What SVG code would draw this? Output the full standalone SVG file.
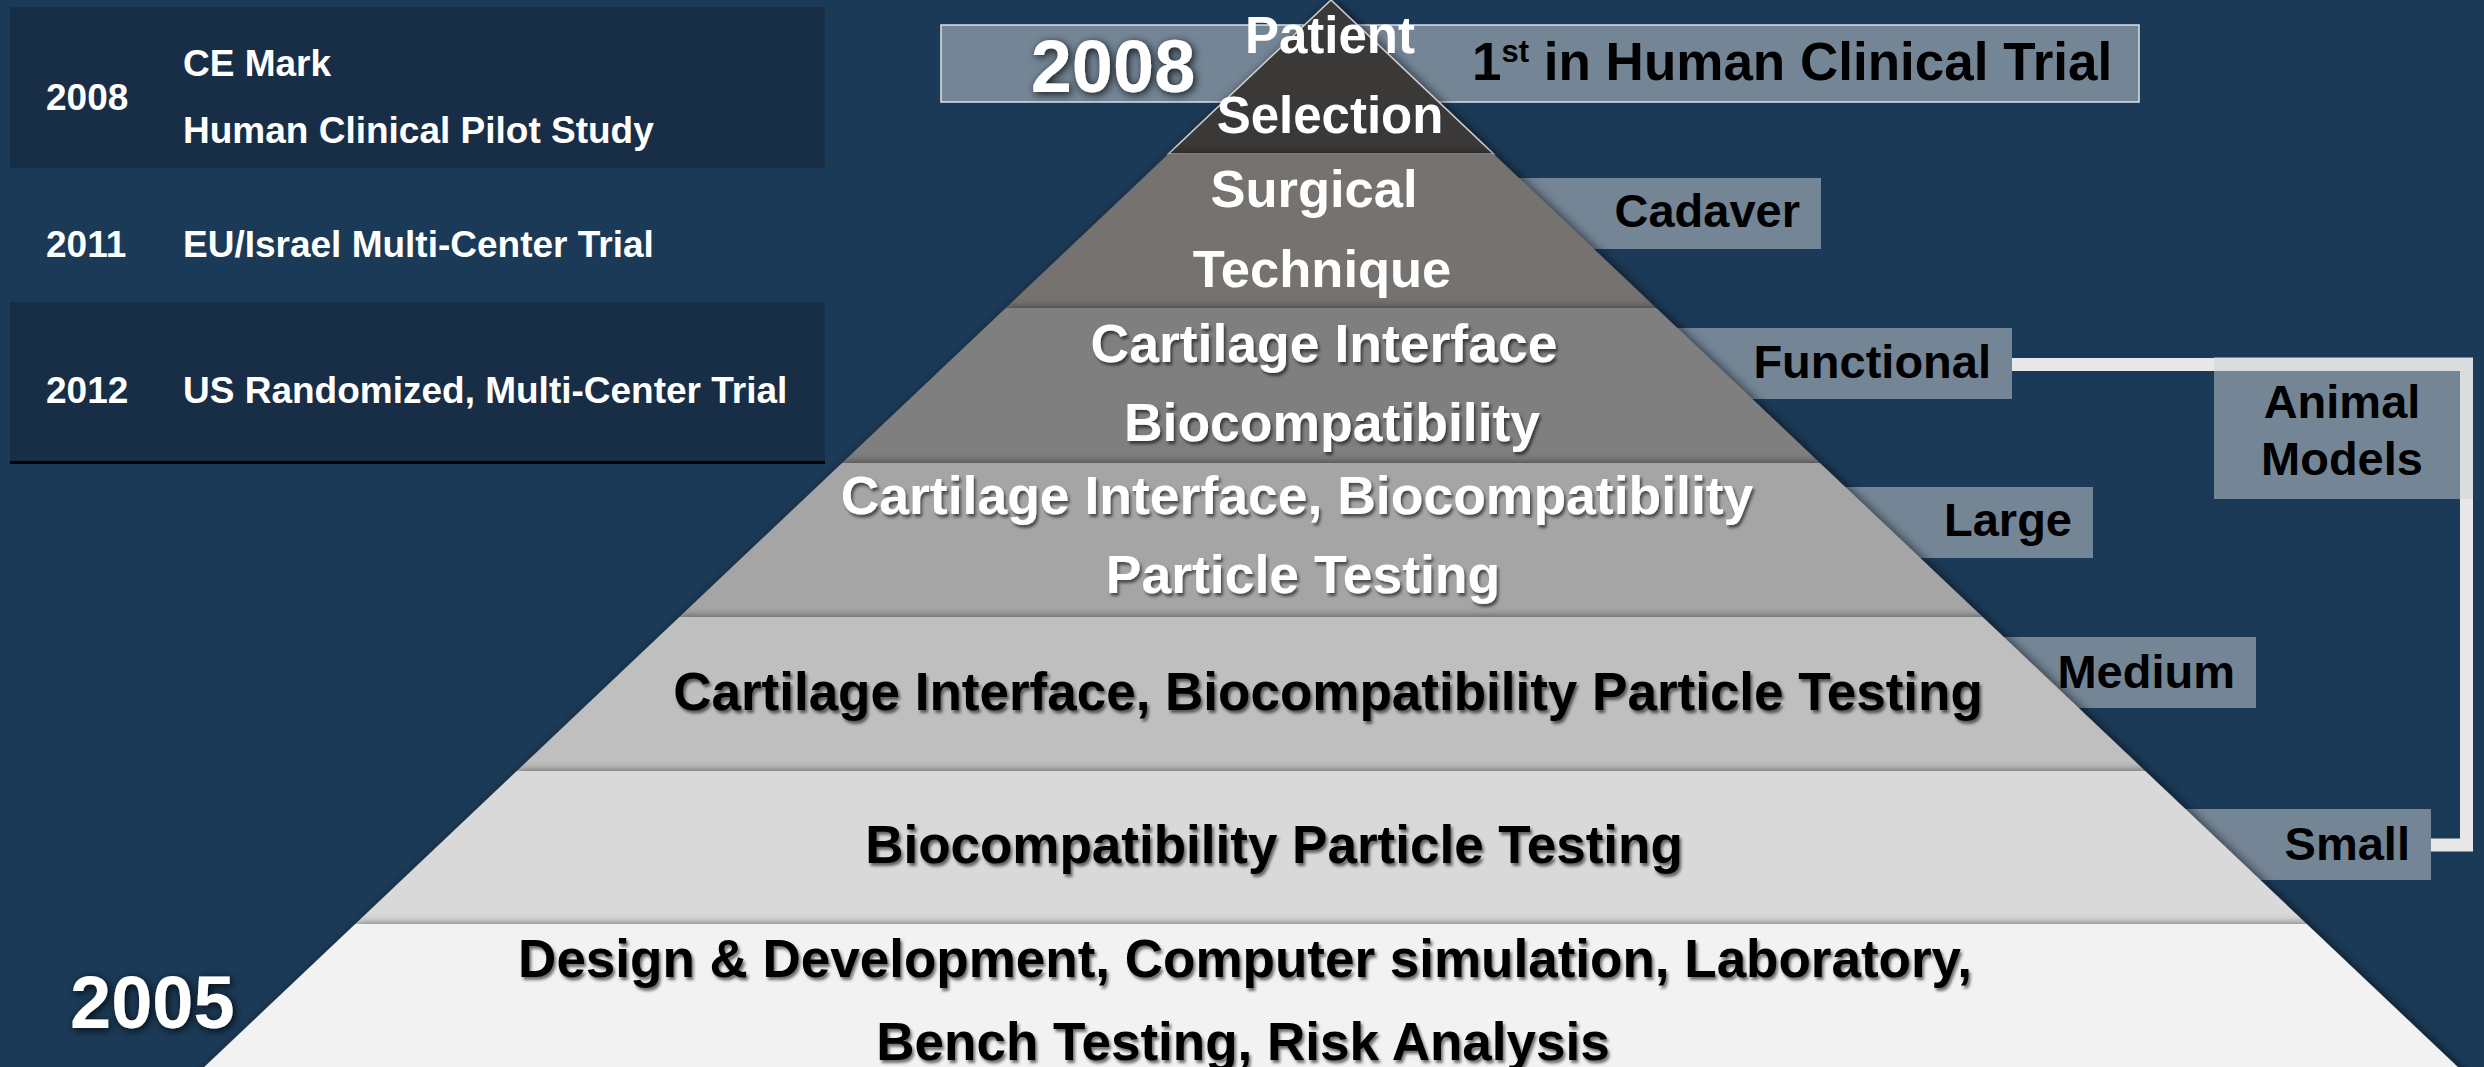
<svg xmlns="http://www.w3.org/2000/svg" width="2484" height="1067" viewBox="0 0 2484 1067">
  <defs>
    <style>
      text { font-family: "Liberation Sans", Arial, sans-serif; font-weight: bold; }
      .cell { fill: #ffffff; font-size: 37px; }
      .band { fill: #182e46; }
      .box { fill: #cdd0d5; fill-opacity: 0.5; }
      .lbl { fill: #000000; font-size: 47px; text-anchor: end; }
      .tierW { fill: #ffffff; font-size: 53.5px; text-anchor: middle; }
      .tierB { fill: #000000; font-size: 53px; text-anchor: middle; }
      .year { fill: #ffffff; font-size: 74px; }
      .tier { filter: url(#tierShadow); }
    </style>
    <filter id="tierShadow" x="-10%" y="-40%" width="120%" height="180%">
      <feDropShadow dx="3" dy="0" stdDeviation="5" flood-color="#000000" flood-opacity="0.55"/>
    </filter>
    <filter id="txtShadow" x="-5%" y="-30%" width="110%" height="170%">
      <feDropShadow dx="2" dy="3" stdDeviation="1.5" flood-color="#000000" flood-opacity="0.55"/>
    </filter>
    <filter id="yearGlow" x="-20%" y="-30%" width="140%" height="170%">
      <feDropShadow dx="2" dy="2" stdDeviation="4" flood-color="#000000" flood-opacity="0.85"/>
    </filter>
  </defs>

  <!-- page background -->
  <rect x="0" y="0" width="2484" height="1067" fill="#1b3a57"/>

  <!-- milestone table -->
  <g id="milestones">
    <g id="row-2008">
      <rect class="band" x="10" y="7" width="815" height="161"/>
      <text class="cell" x="46" y="110">2008</text>
      <text class="cell" x="183" y="76">CE Mark</text>
      <text class="cell" x="183" y="143">Human Clinical Pilot Study</text>
    </g>
    <g id="row-2011">
      <text class="cell" x="46" y="257">2011</text>
      <text class="cell" x="183" y="257">EU/Israel Multi-Center Trial</text>
    </g>
    <g id="row-2012">
      <rect class="band" x="10" y="302" width="815" height="160"/>
      <rect x="10" y="461" width="815" height="3" fill="#000000"/>
      <text class="cell" x="46" y="403">2012</text>
      <text class="cell" x="183" y="403">US Randomized, Multi-Center Trial</text>
    </g>
  </g>

  <!-- bracket joining the animal model levels -->
  <g id="connectors">
    <path id="animal-bracket" d="M2012 364.5 H2466.5 V845 H2431" fill="none" stroke="#e8e8e8" stroke-width="13" stroke-linejoin="miter"/>
  </g>

  <!-- side labels -->
  <g id="first-in-human">
    <rect class="box" x="941" y="25" width="1198" height="77" stroke="#dde3e9" stroke-width="1.5"/>
    <text class="year" x="1113" y="92" text-anchor="middle" filter="url(#yearGlow)">2008</text>
    <text x="1472" y="80" font-size="53" fill="#000000">1<tspan font-size="31" dy="-18">st</tspan><tspan dy="18"> in Human Clinical Trial</tspan></text>
  </g>
  <g id="cadaver">
    <rect class="box" x="1440" y="178" width="381" height="71"/>
    <text class="lbl" x="1800" y="227">Cadaver</text>
  </g>
  <g id="functional">
    <rect class="box" x="1600" y="328" width="412" height="71"/>
    <text class="lbl" x="1991" y="378">Functional</text>
  </g>
  <g id="large">
    <rect class="box" x="1770" y="487" width="323" height="71"/>
    <text class="lbl" x="2072" y="536">Large</text>
  </g>
  <g id="medium">
    <rect class="box" x="1930" y="637" width="326" height="71"/>
    <text class="lbl" x="2235" y="688">Medium</text>
  </g>
  <g id="small">
    <rect class="box" x="2110" y="809" width="321" height="71"/>
    <text class="lbl" x="2410" y="860">Small</text>
  </g>
  <g id="animal-models">
    <rect class="box" x="2214" y="357" width="259" height="142"/>
    <text class="lbl" x="2342" y="418" style="text-anchor:middle">Animal</text>
    <text class="lbl" x="2342" y="475" style="text-anchor:middle">Models</text>
  </g>

  <!-- pyramid, drawn top tier first so each lower tier shades the one above -->
  <g id="pyramid">
    <g id="tier-patient-selection">
      <polygon class="tier" points="1331,0 1493.6,154 1168.4,154" fill="#3b3937" stroke="#d0d0d0" stroke-width="1.5"/>
    </g>
    <g id="tier-surgical-technique">
      <polygon class="tier" points="1168.4,154 1493.6,154 1656.2,308 1005.8,308" fill="#767270"/>
    </g>
    <g id="tier-cartilage-biocompat">
      <polygon class="tier" points="1005.8,308 1656.2,308 1819.9,463 842.1,463" fill="#7f7f7f"/>
    </g>
    <g id="tier-cartilage-biocompat-particle">
      <polygon class="tier" points="842.1,463 1819.9,463 1982.6,617 679.4,617" fill="#a5a5a5"/>
    </g>
    <g id="tier-cartilage-particle-single">
      <polygon class="tier" points="679.4,617 1982.6,617 2145.2,771 516.8,771" fill="#bfbfbf"/>
    </g>
    <g id="tier-biocompat-particle">
      <polygon class="tier" points="516.8,771 2145.2,771 2306.7,924 355.3,924" fill="#d9d9d9"/>
    </g>
    <g id="tier-design">
      <polygon class="tier" points="355.3,924 2306.7,924 2471.5,1080 190.5,1080" fill="#f2f2f2"/>
    </g>
  </g>

  <!-- tier captions -->
  <g id="tier-captions">
    <text class="tierW" x="1330" y="53" font-size="51" style="font-size:51px">Patient</text>
    <text class="tierW" x="1330" y="133" style="font-size:51px">Selection</text>
    <text class="tierW" x="1314" y="207" style="font-size:52.5px">Surgical</text>
    <text class="tierW" x="1322" y="287" style="font-size:52.5px">Technique</text>
    <g filter="url(#txtShadow)">
      <text class="tierW" x="1324" y="362">Cartilage Interface</text>
      <text class="tierW" x="1332" y="441">Biocompatibility</text>
      <text class="tierW" x="1297" y="514">Cartilage Interface, Biocompatibility</text>
      <text class="tierW" x="1303" y="593">Particle Testing</text>
      <text class="tierB" x="1328" y="710">Cartilage Interface, Biocompatibility Particle Testing</text>
      <text class="tierB" x="1274" y="863">Biocompatibility Particle Testing</text>
      <text class="tierB" x="1245" y="977">Design &amp; Development, Computer simulation, Laboratory,</text>
      <text class="tierB" x="1243" y="1060">Bench Testing, Risk Analysis</text>
    </g>
  </g>

  <!-- start year -->
  <text id="year-2005" class="year" x="70" y="1028" filter="url(#yearGlow)">2005</text>
</svg>
